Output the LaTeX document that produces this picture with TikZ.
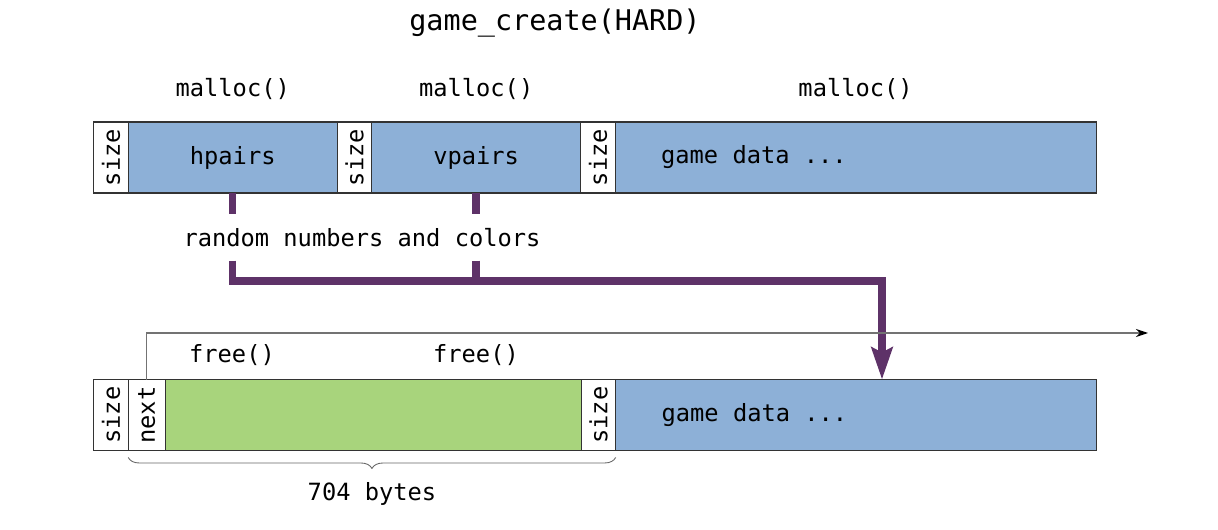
\documentclass[tikz,border=0pt]{standalone}
\usepackage{fontspec}
\setmainfont{DejaVu Sans Mono}
\usetikzlibrary{positioning,arrows.meta,decorations.pathreplacing}

\definecolor{chunkblue}{RGB}{141,176,215}
\definecolor{freegreen}{RGB}{168,212,124}
\definecolor{pipepurple}{RGB}{94,50,104}

\begin{document}
\begin{tikzpicture}[x=0.02cm,y=-0.02cm,
        font=\fontsize{13.5}{16}\selectfont,
        cell/.style = {draw=black!80,
            line width=0.6pt,
            outer sep=0pt,
            inner sep=0pt,
            minimum height=1.42cm,
            },
        sizecell/.style = {cell, fill=white, minimum width=0.69cm},
        used/.style = {cell, fill=chunkblue},
        pipe/.style = {pipepurple, line width=4.25pt},
        link/.style = {black!55, line width=0.75pt},
        brace/.style = {black!60, line width=0.5pt,
            decorate, decoration={brace, mirror, amplitude=0.22cm}},
        ]

    \useasboundingbox (0,0) rectangle (1218,530);

    % Title
    \node (title) at (555,23) {\fontsize{16.2}{19}\selectfont game\_create(HARD)};

    % Heap after malloc()
    \node[sizecell] (s1) at (111,157.5) {\rotatebox{90}{size}};
    \node[used, minimum width=4.18cm, right=0pt of s1] (hp) {hpairs};
    \node[sizecell, right=0pt of hp] (s2) {\rotatebox{90}{size}};
    \node[used, minimum width=4.18cm, right=0pt of s2] (vp) {vpairs};
    \node[sizecell, right=0pt of vp] (s3) {\rotatebox{90}{size}};
    \node[used, minimum width=9.62cm, text width=7.78cm, inner xsep=0.92cm,
        align=flush left, right=0pt of s3] (g1) {\mbox{game data ...}};

    \node (m1) at (hp.north |- 0,89) {malloc()};
    \node (m2) at (vp.north |- 0,89) {malloc()};
    \node (m3) at (g1.north |- 0,89) {malloc()};

    % Heap after free()
    \node[sizecell] (s4) at (111,415) {\rotatebox{90}{size}};
    \node[sizecell, minimum width=0.74cm, right=0pt of s4] (nx) {\rotatebox{90}{next}};
    \node[cell, fill=freegreen, minimum width=8.32cm, right=0pt of nx] (fr) {};
    \node[sizecell, right=0pt of fr] (s5) {\rotatebox{90}{size}};
    \node[used, minimum width=9.62cm, text width=7.78cm, inner xsep=0.92cm,
        align=flush left, right=0pt of s5] (g2) {\mbox{game data ...}};

    \node (f1) at (232,355) {free()};
    \node (f2) at (476,355) {free()};

    % Data moves into game data
    \node[inner ysep=0.27cm] (rnd) at (362,237.5) {random numbers and colors};
    \coordinate (bend) at (882,281);

    \draw[pipe] (hp.south) -- (hp.south |- rnd.north);
    \draw[pipe] (vp.south) -- (vp.south |- rnd.north);
    \draw[pipe] (vp.south |- rnd.south) -- (vp.south |- bend);
    \draw[pipe, -{Stealth[length=0.64cm, width=0.42cm, inset=0.1cm]}]
        (hp.south |- rnd.south) -- (hp.south |- bend) -- (bend) -- (bend |- g2.north);

    % Free list pointer
    \coordinate (out) at (1148,333);
    \draw[link, -{Stealth[length=0.24cm, width=0.16cm, black]}] (nx.north) |- (out);

    % Size of the free chunk
    \draw[brace] ([yshift=-0.14cm]nx.south west) -- ([yshift=-0.14cm]s5.south east);
    \node (bytes) at (372,494) {704 bytes};

\end{tikzpicture}
\end{document}
